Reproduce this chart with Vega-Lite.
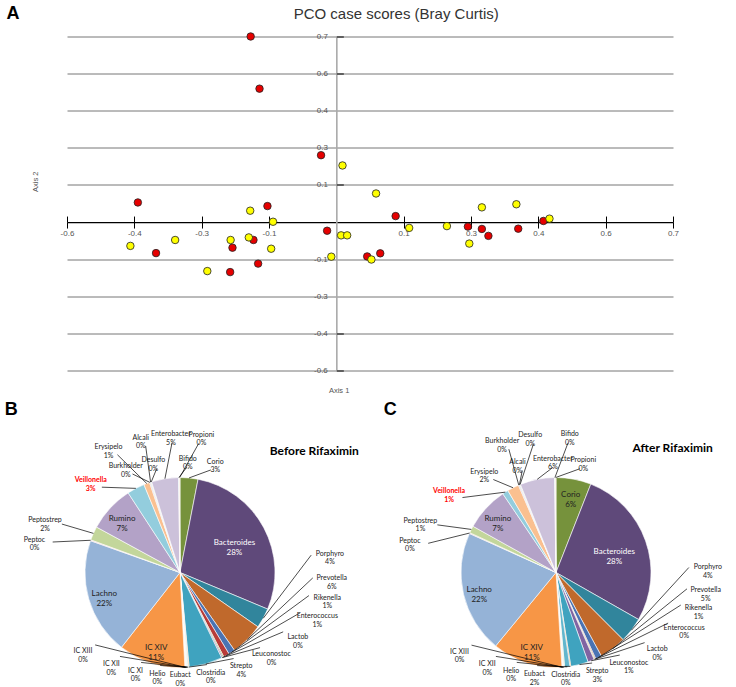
{
  "$schema": "https://vega.github.io/schema/vega-lite/v6.json",
  "padding": {"left": 4, "top": 3.5, "right": 2, "bottom": 2},
  "bounds": "flush",
  "spacing": 107,
  "resolve": {"scale": {"color": "independent"}},
  "config": {
    "view": {"stroke": null},
    "axis": {"domain": false, "ticks": false, "labels": false, "grid": false}
  },
  "datasets": {
    "scores": [
      {"a1": -0.206, "a2": 0.700, "g": "Before"},
      {"a1": -0.187, "a2": 0.497, "g": "Before"},
      {"a1": -0.055, "a2": 0.238, "g": "Before"},
      {"a1": -0.448, "a2": 0.054, "g": "Before"},
      {"a1": -0.170, "a2": 0.040, "g": "Before"},
      {"a1": -0.409, "a2": -0.143, "g": "Before"},
      {"a1": -0.245, "a2": -0.122, "g": "Before"},
      {"a1": -0.200, "a2": -0.092, "g": "Before"},
      {"a1": -0.190, "a2": -0.184, "g": "Before"},
      {"a1": -0.250, "a2": -0.217, "g": "Before"},
      {"a1": 0.105, "a2": 0.001, "g": "Before"},
      {"a1": 0.260, "a2": -0.040, "g": "Before"},
      {"a1": 0.290, "a2": -0.049, "g": "Before"},
      {"a1": 0.304, "a2": -0.076, "g": "Before"},
      {"a1": 0.368, "a2": -0.048, "g": "Before"},
      {"a1": 0.422, "a2": -0.018, "g": "Before"},
      {"a1": -0.042, "a2": -0.056, "g": "Before"},
      {"a1": 0.044, "a2": -0.156, "g": "Before"},
      {"a1": 0.072, "a2": -0.144, "g": "Before"},
      {"a1": -0.009, "a2": 0.198, "g": "After"},
      {"a1": -0.207, "a2": 0.022, "g": "After"},
      {"a1": -0.158, "a2": -0.021, "g": "After"},
      {"a1": -0.464, "a2": -0.115, "g": "After"},
      {"a1": -0.368, "a2": -0.092, "g": "After"},
      {"a1": -0.249, "a2": -0.092, "g": "After"},
      {"a1": -0.210, "a2": -0.082, "g": "After"},
      {"a1": -0.162, "a2": -0.126, "g": "After"},
      {"a1": -0.299, "a2": -0.213, "g": "After"},
      {"a1": 0.063, "a2": 0.089, "g": "After"},
      {"a1": 0.134, "a2": -0.045, "g": "After"},
      {"a1": 0.215, "a2": -0.038, "g": "After"},
      {"a1": 0.290, "a2": 0.035, "g": "After"},
      {"a1": 0.263, "a2": -0.106, "g": "After"},
      {"a1": 0.364, "a2": 0.047, "g": "After"},
      {"a1": 0.435, "a2": -0.009, "g": "After"},
      {"a1": -0.012, "a2": -0.074, "g": "After"},
      {"a1": 0.001, "a2": -0.074, "g": "After"},
      {"a1": -0.033, "a2": -0.157, "g": "After"},
      {"a1": 0.053, "a2": -0.168, "g": "After"}
    ],
    "before": [
      {"order": 1, "taxon": "Corio", "share": 3.05, "pct": "3%"},
      {"order": 2, "taxon": "Bacteroides", "share": 28.3, "pct": "28%"},
      {"order": 3, "taxon": "Porphyro", "share": 3.4, "pct": "4%"},
      {"order": 4, "taxon": "Prevotella", "share": 5.6, "pct": "6%"},
      {"order": 5, "taxon": "Rikenella", "share": 1.1, "pct": "1%"},
      {"order": 6, "taxon": "Enterococcus", "share": 1.0, "pct": "1%"},
      {"order": 7, "taxon": "Lactob", "share": 0.2, "pct": "0%"},
      {"order": 8, "taxon": "Leuconostoc", "share": 0.2, "pct": "0%"},
      {"order": 9, "taxon": "Strepto", "share": 5.7, "pct": "4%"},
      {"order": 10, "taxon": "Clostridia", "share": 0.12, "pct": "0%"},
      {"order": 11, "taxon": "Eubact", "share": 0.12, "pct": "0%"},
      {"order": 12, "taxon": "Helio", "share": 0.12, "pct": "0%"},
      {"order": 13, "taxon": "IC XI", "share": 0.12, "pct": "0%"},
      {"order": 14, "taxon": "IC XII", "share": 0.12, "pct": "0%"},
      {"order": 15, "taxon": "IC XIII", "share": 0.12, "pct": "0%"},
      {"order": 16, "taxon": "IC XIV", "share": 11.4, "pct": "11%"},
      {"order": 17, "taxon": "Lachno", "share": 19.9, "pct": "22%"},
      {"order": 18, "taxon": "Peptoc", "share": 0.15, "pct": "0%"},
      {"order": 19, "taxon": "Peptostrep", "share": 2.35, "pct": "2%"},
      {"order": 20, "taxon": "Rumino", "share": 7.9, "pct": "7%"},
      {"order": 21, "taxon": "Veillonella", "share": 3.0, "pct": "3%"},
      {"order": 22, "taxon": "Erysipelo", "share": 1.0, "pct": "1%"},
      {"order": 23, "taxon": "Burkholder", "share": 0.12, "pct": "0%"},
      {"order": 24, "taxon": "Alcali", "share": 0.12, "pct": "0%"},
      {"order": 25, "taxon": "Desulfo", "share": 0.12, "pct": "0%"},
      {"order": 26, "taxon": "Enterobacter", "share": 4.6, "pct": "5%"},
      {"order": 27, "taxon": "Bifido", "share": 0.12, "pct": "0%"},
      {"order": 28, "taxon": "Propioni", "share": 0.12, "pct": "0%"}
    ],
    "after": [
      {"order": 1, "taxon": "Corio", "share": 6.0, "pct": "6%"},
      {"order": 2, "taxon": "Bacteroides", "share": 27.4, "pct": "28%"},
      {"order": 3, "taxon": "Porphyro", "share": 4.3, "pct": "4%"},
      {"order": 4, "taxon": "Prevotella", "share": 4.6, "pct": "5%"},
      {"order": 5, "taxon": "Rikenella", "share": 1.05, "pct": "1%"},
      {"order": 6, "taxon": "Enterococcus", "share": 0.15, "pct": "0%"},
      {"order": 7, "taxon": "Lactob", "share": 0.15, "pct": "0%"},
      {"order": 8, "taxon": "Leuconostoc", "share": 1.1, "pct": "1%"},
      {"order": 9, "taxon": "Strepto", "share": 3.0, "pct": "3%"},
      {"order": 10, "taxon": "Clostridia", "share": 0.15, "pct": "0%"},
      {"order": 11, "taxon": "Eubact", "share": 0.9, "pct": "2%"},
      {"order": 12, "taxon": "Helio", "share": 0.15, "pct": "0%"},
      {"order": 14, "taxon": "IC XII", "share": 0.15, "pct": "0%"},
      {"order": 15, "taxon": "IC XIII", "share": 0.15, "pct": "0%"},
      {"order": 16, "taxon": "IC XIV", "share": 12.0, "pct": "11%"},
      {"order": 17, "taxon": "Lachno", "share": 20.9, "pct": "22%"},
      {"order": 18, "taxon": "Peptoc", "share": 0.15, "pct": "0%"},
      {"order": 19, "taxon": "Peptostrep", "share": 1.2, "pct": "1%"},
      {"order": 20, "taxon": "Rumino", "share": 7.5, "pct": "7%"},
      {"order": 21, "taxon": "Veillonella", "share": 1.0, "pct": "1%"},
      {"order": 22, "taxon": "Erysipelo", "share": 2.0, "pct": "2%"},
      {"order": 23, "taxon": "Burkholder", "share": 0.12, "pct": "0%"},
      {"order": 24, "taxon": "Alcali", "share": 0.12, "pct": "0%"},
      {"order": 25, "taxon": "Desulfo", "share": 0.12, "pct": "0%"},
      {"order": 26, "taxon": "Enterobacter", "share": 5.9, "pct": "6%"},
      {"order": 27, "taxon": "Bifido", "share": 0.12, "pct": "0%"},
      {"order": 28, "taxon": "Propioni", "share": 0.12, "pct": "0%"}
    ]
  },
  "vconcat": [
    {
      "width": 606,
      "height": 334,
      "data": {"name": "scores"},
      "layer": [
        {
          "mark": {"type": "point", "shape": "circle", "filled": true, "size": 56, "stroke": "#222222", "strokeWidth": 0.8, "opacity": 1},
          "encoding": {
            "x": {
              "field": "a1", "type": "quantitative",
              "scale": {"domain": [-0.6, 0.7], "nice": false, "zero": false},
              "axis": {
                "orient": "bottom", "offset": -148.44,
                "values": [-0.6, -0.45556, -0.31111, -0.16667, 0.12222, 0.26667, 0.41111, 0.55556, 0.7],
                "labelExpr": "datum.value < -0.5 ? '-0.6' : datum.value < -0.4 ? '-0.4' : datum.value < -0.2 ? '-0.3' : datum.value < 0 ? '-0.1' : datum.value < 0.2 ? '0.1' : datum.value < 0.3 ? '0.3' : datum.value < 0.5 ? '0.4' : datum.value < 0.6 ? '0.6' : '0.7'",
                "domain": true, "domainColor": "#000000", "domainWidth": 1.3,
                "ticks": true, "tickColor": "#000000", "tickSize": 6, "tickWidth": 1,
                "labels": true, "labelFont": "Liberation Sans", "labelFontSize": 8, "labelColor": "#555555", "labelPadding": 1.5,
                "labelFlush": false, "labelOverlap": false, "labelBound": false,
                "grid": false,
                "title": "Axis 1", "titleX": 271.6, "titleY": 168.7, "titleAlign": "center", "titleBaseline": "middle", "titleAngle": 0,
                "titleFont": "Liberation Sans", "titleFontSize": 7.5, "titleFontWeight": "normal", "titleColor": "#555555"
              }
            },
            "y": {
              "field": "a2", "type": "quantitative",
              "scale": {"domain": [-0.6, 0.7], "nice": false, "zero": false},
              "axis": {
                "orient": "left", "offset": -269.33,
                "values": [0.7, 0.55556, 0.41111, 0.26667, 0.12222, -0.16667, -0.31111, -0.45556, -0.6],
                "labelExpr": "datum.value < -0.5 ? '-0.6' : datum.value < -0.4 ? '-0.4' : datum.value < -0.2 ? '-0.3' : datum.value < 0 ? '-0.1' : datum.value < 0.2 ? '0.1' : datum.value < 0.3 ? '0.3' : datum.value < 0.5 ? '0.4' : datum.value < 0.6 ? '0.6' : '0.7'",
                "domain": true, "domainColor": "#aaaaaa", "domainWidth": 1.6,
                "ticks": false, "tickSize": 0,
                "labels": true, "labelFont": "Liberation Sans", "labelFontSize": 8, "labelColor": "#555555", "labelPadding": 9,
                "labelFlush": false, "labelOverlap": false, "labelBound": false,
                "grid": true, "gridColor": "#777777", "gridWidth": 1,
                "title": "Axis 2", "titleX": -301, "titleY": 144.8, "titleAlign": "center", "titleBaseline": "middle", "titleAngle": -90,
                "titleFont": "Liberation Sans", "titleFontSize": 7.5, "titleFontWeight": "normal", "titleColor": "#555555"
              }
            },
            "fill": {
              "field": "g", "type": "nominal",
              "scale": {"domain": ["Before", "After"], "range": ["#e60000", "#ffff00"]},
              "legend": null
            }
          }
        },
        {
          "mark": {"type": "point", "opacity": 0},
          "encoding": {
            "x": {
              "field": "a1", "type": "quantitative",
              "axis": {
                "orient": "top", "offset": -185.56,
                "values": [-0.6, -0.45556, -0.31111, -0.16667, 0.12222, 0.26667, 0.41111, 0.55556, 0.7],
                "domain": false, "ticks": true, "tickColor": "#000000", "tickSize": 6, "tickWidth": 1,
                "labels": false, "grid": false,
                "title": "PCO case scores (Bray Curtis)", "titleX": 328.7, "titleY": -208.8, "titleAlign": "center", "titleBaseline": "middle", "titleAngle": 0,
                "titleFont": "Liberation Sans", "titleFontSize": 15, "titleFontWeight": "normal", "titleColor": "#333333"
              }
            },
            "y": {
              "field": "a2", "type": "quantitative",
              "axis": {
                "orient": "right", "offset": -336.67,
                "values": [0.7, 0.55556, 0.12222, -0.45556, -0.6],
                "domain": false, "ticks": true, "tickColor": "#222222", "tickSize": 7, "tickWidth": 1.2,
                "labels": false, "grid": false,
                "title": "A", "titleX": -330.3, "titleY": -23.2, "titleAlign": "left", "titleBaseline": "middle", "titleAngle": 0,
                "titleFont": "Liberation Sans", "titleFontSize": 18, "titleFontWeight": "bold", "titleColor": "#000000"
              }
            }
          }
        }
      ],
      "resolve": {"axis": {"x": "independent", "y": "independent"}}
    },
    {
      "bounds": "flush",
      "spacing": 150,
      "hconcat": [
        {
          "width": 226,
          "height": 190,
          "data": {"name": "before"},
          "transform": [
            {"stack": "share", "groupby": [], "sort": [{"field": "order", "order": "ascending"}], "as": ["s0", "s1"]},
            {"joinaggregate": [{"op": "sum", "field": "share", "as": "tot"}]},
            {"calculate": "datum.s0 / datum.tot", "as": "f0"},
            {"calculate": "datum.s1 / datum.tot", "as": "f1"},
            {"calculate": "PI * (datum.s0 + datum.s1) / datum.tot", "as": "mid"},
            {"calculate": "datum.share >= 6 ? 'in' : 'out'", "as": "side"},
            {"calculate": "(datum.mid - 1.2 + 2 * PI) % (2 * PI)", "as": "rm"},
            {"window": [{"op": "row_number", "as": "k"}], "sort": [{"field": "rm", "order": "ascending"}], "groupby": ["side"]},
            {"calculate": "length(datum.taxon) * 3.3 + 4", "as": "wl"},
            {"window": [{"op": "lag", "field": "wl", "as": "wp"}], "sort": [{"field": "rm", "order": "ascending"}], "groupby": ["side"]},
            {"calculate": "datum.k == 1 ? 0 : min((datum.wl + datum.wp) / 2 / (152 * abs(cos(datum.mid)) + 0.01) * (cos(datum.mid) > 0.87 ? 0.5 : 1), 18 / (110 * abs(sin(datum.mid)) + 0.01))", "as": "g1"},
            {"window": [{"op": "sum", "field": "g1", "as": "c1"}], "sort": [{"field": "rm", "order": "ascending"}], "groupby": ["side"], "frame": [null, 0]},
            {"calculate": "datum.rm - datum.c1", "as": "v1"},
            {"window": [{"op": "max", "field": "v1", "as": "mx1"}], "sort": [{"field": "rm", "order": "ascending"}], "groupby": ["side"], "frame": [null, 0]},
            {"window": [{"op": "min", "field": "v1", "as": "mn1"}], "sort": [{"field": "rm", "order": "ascending"}], "groupby": ["side"], "frame": [0, null]},
            {"calculate": "(datum.mx1 + datum.mn1) / 2 + datum.c1 + 1.2", "as": "t1"},
            {"calculate": "datum.k == 1 ? 0 : min((datum.wl + datum.wp) / 2 / (152 * abs(cos(datum.t1)) + 0.01) * (cos(datum.t1) > 0.87 ? 0.5 : 1), 18 / (110 * abs(sin(datum.t1)) + 0.01))", "as": "g2"},
            {"window": [{"op": "sum", "field": "g2", "as": "c2"}], "sort": [{"field": "rm", "order": "ascending"}], "groupby": ["side"], "frame": [null, 0]},
            {"calculate": "datum.rm - datum.c2", "as": "v2"},
            {"window": [{"op": "max", "field": "v2", "as": "mx2"}], "sort": [{"field": "rm", "order": "ascending"}], "groupby": ["side"], "frame": [null, 0]},
            {"window": [{"op": "min", "field": "v2", "as": "mn2"}], "sort": [{"field": "rm", "order": "ascending"}], "groupby": ["side"], "frame": [0, null]},
            {"calculate": "(datum.mx2 + datum.mn2) / 2 + datum.c2 + 1.2", "as": "la"},
            {"calculate": "datum.side == 'in' ? sin(datum.mid) * (datum.share > 25 ? 0.65 : 0.83) : sin(datum.la) * 1.6", "as": "lx"},
            {"calculate": "datum.side == 'in' ? cos(datum.mid) * (datum.share > 25 ? 0.65 : 0.83) : cos(datum.la) * (cos(datum.la) > 0 ? 1.2 : 1.08) + (cos(datum.la) > 0.78 ? (datum.k % 2) * 0.26 : 0)", "as": "ly"},
            {"calculate": "sin(datum.mid)", "as": "ex"},
            {"calculate": "cos(datum.mid)", "as": "ey"},
            {"calculate": "datum.lx - 0.2 * sin(datum.la)", "as": "tx"},
            {"calculate": "datum.ly - 0.09 * cos(datum.la)", "as": "ty"},
            {"calculate": "[datum.taxon, datum.pct]", "as": "lab"}
          ],
          "layer": [
            {
              "mark": {"type": "arc", "outerRadius": 95, "stroke": "#ffffff", "strokeWidth": 0.6},
              "encoding": {
                "theta": {"field": "f0", "type": "quantitative", "stack": null, "scale": {"domain": [0, 1]}},
                "theta2": {"field": "f1"},
                "color": {
                  "field": "taxon", "type": "nominal", "legend": null,
                  "scale": {
                    "domain": ["Corio","Bacteroides","Porphyro","Prevotella","Rikenella","Enterococcus","Lactob","Leuconostoc","Strepto","Clostridia","Eubact","Helio","IC XI","IC XII","IC XIII","IC XIV","Lachno","Peptoc","Peptostrep","Rumino","Veillonella","Erysipelo","Burkholder","Alcali","Desulfo","Enterobacter","Bifido","Propioni"],
                    "range": ["#76923c","#5f497a","#31859c","#c0692c","#4a73b3","#b83b38","#9bbb59","#8064a2","#3fa3bf","#e46c0a","#62b6cd","#c3d69b","#d9d9d9","#e0e0e0","#eeece1","#f79646","#95b3d7","#e6b9b8","#c3d69b","#b3a2c7","#93cddd","#fac090","#d99694","#8eb4e3","#d7e4bd","#ccc1da","#b7dee8","#fcd5b5"]
                  }
                }
              }
            },
            {
              "transform": [{"filter": "datum.side == 'out'"}],
              "mark": {"type": "rule", "color": "#000000", "strokeWidth": 0.7},
              "encoding": {
                "x": {"field": "ex", "type": "quantitative", "scale": {"domain": [-1.18947, 1.18947], "nice": false, "zero": false},
                  "axis": {"orient": "top", "title": "Before Rifaximin", "titleX": 291.3, "titleY": -26.7, "titleAlign": "right", "titleBaseline": "middle", "titleAngle": 0, "titleFont": "Lato", "titleFontSize": 12, "titleFontWeight": "bold", "titleColor": "#000000"}},
                "y": {"field": "ey", "type": "quantitative", "scale": {"domain": [-1, 1], "nice": false, "zero": false},
                  "axis": {"orient": "left", "title": "B", "titleX": -62.7, "titleY": -68.4, "titleAlign": "left", "titleBaseline": "middle", "titleAngle": 0, "titleFont": "Liberation Sans", "titleFontSize": 18, "titleFontWeight": "bold", "titleColor": "#000000"}},
                "x2": {"field": "tx"},
                "y2": {"field": "ty"}
              }
            },
            {
              "transform": [{"filter": "datum.side == 'in'"}],
              "mark": {"type": "text", "font": "Lato", "fontSize": 8, "lineHeight": 10},
              "encoding": {
                "x": {"field": "lx", "type": "quantitative",
                  "axis": {"orient": "top", "title": "Before Rifaximin", "titleX": 291.3, "titleY": -26.7, "titleAlign": "right", "titleBaseline": "middle", "titleAngle": 0, "titleFont": "Lato", "titleFontSize": 12, "titleFontWeight": "bold", "titleColor": "#000000"}},
                "y": {"field": "ly", "type": "quantitative",
                  "axis": {"orient": "left", "title": "B", "titleX": -62.7, "titleY": -68.4, "titleAlign": "left", "titleBaseline": "middle", "titleAngle": 0, "titleFont": "Liberation Sans", "titleFontSize": 18, "titleFontWeight": "bold", "titleColor": "#000000"}},
                "text": {"field": "lab"},
                "color": {"condition": {"test": "datum.taxon == 'Bacteroides'", "value": "#ffffff"}, "value": "#222222"}
              }
            },
            {
              "transform": [{"filter": "datum.side == 'out' && datum.taxon != 'Veillonella'"}],
              "mark": {"type": "text", "font": "Lato", "fontSize": 7, "lineHeight": 8.5, "color": "#222222"},
              "encoding": {
                "x": {"field": "lx", "type": "quantitative",
                  "axis": {"orient": "top", "title": "Before Rifaximin", "titleX": 291.3, "titleY": -26.7, "titleAlign": "right", "titleBaseline": "middle", "titleAngle": 0, "titleFont": "Lato", "titleFontSize": 12, "titleFontWeight": "bold", "titleColor": "#000000"}},
                "y": {"field": "ly", "type": "quantitative",
                  "axis": {"orient": "left", "title": "B", "titleX": -62.7, "titleY": -68.4, "titleAlign": "left", "titleBaseline": "middle", "titleAngle": 0, "titleFont": "Liberation Sans", "titleFontSize": 18, "titleFontWeight": "bold", "titleColor": "#000000"}},
                "text": {"field": "lab"}
              }
            },
            {
              "transform": [{"filter": "datum.side == 'out' && datum.taxon == 'Veillonella'"}],
              "mark": {"type": "text", "font": "Lato", "fontSize": 7, "lineHeight": 8.5, "color": "#ff0000", "fontWeight": "bold"},
              "encoding": {
                "x": {"field": "lx", "type": "quantitative",
                  "axis": {"orient": "top", "title": "Before Rifaximin", "titleX": 291.3, "titleY": -26.7, "titleAlign": "right", "titleBaseline": "middle", "titleAngle": 0, "titleFont": "Lato", "titleFontSize": 12, "titleFontWeight": "bold", "titleColor": "#000000"}},
                "y": {"field": "ly", "type": "quantitative",
                  "axis": {"orient": "left", "title": "B", "titleX": -62.7, "titleY": -68.4, "titleAlign": "left", "titleBaseline": "middle", "titleAngle": 0, "titleFont": "Liberation Sans", "titleFontSize": 18, "titleFontWeight": "bold", "titleColor": "#000000"}},
                "text": {"field": "lab"}
              }
            }
          ]
        },
        {
          "width": 226,
          "height": 190,
          "data": {"name": "after"},
          "transform": [
            {"stack": "share", "groupby": [], "sort": [{"field": "order", "order": "ascending"}], "as": ["s0", "s1"]},
            {"joinaggregate": [{"op": "sum", "field": "share", "as": "tot"}]},
            {"calculate": "datum.s0 / datum.tot", "as": "f0"},
            {"calculate": "datum.s1 / datum.tot", "as": "f1"},
            {"calculate": "PI * (datum.s0 + datum.s1) / datum.tot", "as": "mid"},
            {"calculate": "datum.share >= 6 ? 'in' : 'out'", "as": "side"},
            {"calculate": "(datum.mid - 1.2 + 2 * PI) % (2 * PI)", "as": "rm"},
            {"window": [{"op": "row_number", "as": "k"}], "sort": [{"field": "rm", "order": "ascending"}], "groupby": ["side"]},
            {"calculate": "length(datum.taxon) * 3.3 + 4", "as": "wl"},
            {"window": [{"op": "lag", "field": "wl", "as": "wp"}], "sort": [{"field": "rm", "order": "ascending"}], "groupby": ["side"]},
            {"calculate": "datum.k == 1 ? 0 : min((datum.wl + datum.wp) / 2 / (152 * abs(cos(datum.mid)) + 0.01) * (cos(datum.mid) > 0.87 ? 0.5 : 1), 18 / (110 * abs(sin(datum.mid)) + 0.01))", "as": "g1"},
            {"window": [{"op": "sum", "field": "g1", "as": "c1"}], "sort": [{"field": "rm", "order": "ascending"}], "groupby": ["side"], "frame": [null, 0]},
            {"calculate": "datum.rm - datum.c1", "as": "v1"},
            {"window": [{"op": "max", "field": "v1", "as": "mx1"}], "sort": [{"field": "rm", "order": "ascending"}], "groupby": ["side"], "frame": [null, 0]},
            {"window": [{"op": "min", "field": "v1", "as": "mn1"}], "sort": [{"field": "rm", "order": "ascending"}], "groupby": ["side"], "frame": [0, null]},
            {"calculate": "(datum.mx1 + datum.mn1) / 2 + datum.c1 + 1.2", "as": "t1"},
            {"calculate": "datum.k == 1 ? 0 : min((datum.wl + datum.wp) / 2 / (152 * abs(cos(datum.t1)) + 0.01) * (cos(datum.t1) > 0.87 ? 0.5 : 1), 18 / (110 * abs(sin(datum.t1)) + 0.01))", "as": "g2"},
            {"window": [{"op": "sum", "field": "g2", "as": "c2"}], "sort": [{"field": "rm", "order": "ascending"}], "groupby": ["side"], "frame": [null, 0]},
            {"calculate": "datum.rm - datum.c2", "as": "v2"},
            {"window": [{"op": "max", "field": "v2", "as": "mx2"}], "sort": [{"field": "rm", "order": "ascending"}], "groupby": ["side"], "frame": [null, 0]},
            {"window": [{"op": "min", "field": "v2", "as": "mn2"}], "sort": [{"field": "rm", "order": "ascending"}], "groupby": ["side"], "frame": [0, null]},
            {"calculate": "(datum.mx2 + datum.mn2) / 2 + datum.c2 + 1.2", "as": "la"},
            {"calculate": "datum.side == 'in' ? sin(datum.mid) * (datum.share > 25 ? 0.65 : 0.83) : sin(datum.la) * 1.6", "as": "lx"},
            {"calculate": "datum.side == 'in' ? cos(datum.mid) * (datum.share > 25 ? 0.65 : 0.83) : cos(datum.la) * (cos(datum.la) > 0 ? 1.2 : 1.08) + (cos(datum.la) > 0.78 ? (datum.k % 2) * 0.26 : 0)", "as": "ly"},
            {"calculate": "sin(datum.mid)", "as": "ex"},
            {"calculate": "cos(datum.mid)", "as": "ey"},
            {"calculate": "datum.lx - 0.2 * sin(datum.la)", "as": "tx"},
            {"calculate": "datum.ly - 0.09 * cos(datum.la)", "as": "ty"},
            {"calculate": "[datum.taxon, datum.pct]", "as": "lab"}
          ],
          "layer": [
            {
              "mark": {"type": "arc", "outerRadius": 95, "stroke": "#ffffff", "strokeWidth": 0.6},
              "encoding": {
                "theta": {"field": "f0", "type": "quantitative", "stack": null, "scale": {"domain": [0, 1]}},
                "theta2": {"field": "f1"},
                "color": {
                  "field": "taxon", "type": "nominal", "legend": null,
                  "scale": {
                    "domain": ["Corio","Bacteroides","Porphyro","Prevotella","Rikenella","Enterococcus","Lactob","Leuconostoc","Strepto","Clostridia","Eubact","Helio","IC XI","IC XII","IC XIII","IC XIV","Lachno","Peptoc","Peptostrep","Rumino","Veillonella","Erysipelo","Burkholder","Alcali","Desulfo","Enterobacter","Bifido","Propioni"],
                    "range": ["#76923c","#5f497a","#31859c","#c0692c","#4a73b3","#b83b38","#9bbb59","#8064a2","#3fa3bf","#e46c0a","#62b6cd","#c3d69b","#d9d9d9","#e0e0e0","#eeece1","#f79646","#95b3d7","#e6b9b8","#c3d69b","#b3a2c7","#93cddd","#fac090","#d99694","#8eb4e3","#d7e4bd","#ccc1da","#b7dee8","#fcd5b5"]
                  }
                }
              }
            },
            {
              "transform": [{"filter": "datum.side == 'out'"}],
              "mark": {"type": "rule", "color": "#000000", "strokeWidth": 0.7},
              "encoding": {
                "x": {"field": "ex", "type": "quantitative", "scale": {"domain": [-1.18947, 1.18947], "nice": false, "zero": false},
                  "axis": {"orient": "top", "title": "After Rifaximin", "titleX": 269.3, "titleY": -29.7, "titleAlign": "right", "titleBaseline": "middle", "titleAngle": 0, "titleFont": "Lato", "titleFontSize": 12, "titleFontWeight": "bold", "titleColor": "#000000"}},
                "y": {"field": "ey", "type": "quantitative", "scale": {"domain": [-1, 1], "nice": false, "zero": false},
                  "axis": {"orient": "left", "title": "C", "titleX": -59.7, "titleY": -68.2, "titleAlign": "left", "titleBaseline": "middle", "titleAngle": 0, "titleFont": "Liberation Sans", "titleFontSize": 18, "titleFontWeight": "bold", "titleColor": "#000000"}},
                "x2": {"field": "tx"},
                "y2": {"field": "ty"}
              }
            },
            {
              "transform": [{"filter": "datum.side == 'in'"}],
              "mark": {"type": "text", "font": "Lato", "fontSize": 8, "lineHeight": 10},
              "encoding": {
                "x": {"field": "lx", "type": "quantitative",
                  "axis": {"orient": "top", "title": "After Rifaximin", "titleX": 269.3, "titleY": -29.7, "titleAlign": "right", "titleBaseline": "middle", "titleAngle": 0, "titleFont": "Lato", "titleFontSize": 12, "titleFontWeight": "bold", "titleColor": "#000000"}},
                "y": {"field": "ly", "type": "quantitative",
                  "axis": {"orient": "left", "title": "C", "titleX": -59.7, "titleY": -68.2, "titleAlign": "left", "titleBaseline": "middle", "titleAngle": 0, "titleFont": "Liberation Sans", "titleFontSize": 18, "titleFontWeight": "bold", "titleColor": "#000000"}},
                "text": {"field": "lab"},
                "color": {"condition": {"test": "datum.taxon == 'Bacteroides'", "value": "#ffffff"}, "value": "#222222"}
              }
            },
            {
              "transform": [{"filter": "datum.side == 'out' && datum.taxon != 'Veillonella'"}],
              "mark": {"type": "text", "font": "Lato", "fontSize": 7, "lineHeight": 8.5, "color": "#222222"},
              "encoding": {
                "x": {"field": "lx", "type": "quantitative",
                  "axis": {"orient": "top", "title": "After Rifaximin", "titleX": 269.3, "titleY": -29.7, "titleAlign": "right", "titleBaseline": "middle", "titleAngle": 0, "titleFont": "Lato", "titleFontSize": 12, "titleFontWeight": "bold", "titleColor": "#000000"}},
                "y": {"field": "ly", "type": "quantitative",
                  "axis": {"orient": "left", "title": "C", "titleX": -59.7, "titleY": -68.2, "titleAlign": "left", "titleBaseline": "middle", "titleAngle": 0, "titleFont": "Liberation Sans", "titleFontSize": 18, "titleFontWeight": "bold", "titleColor": "#000000"}},
                "text": {"field": "lab"}
              }
            },
            {
              "transform": [{"filter": "datum.side == 'out' && datum.taxon == 'Veillonella'"}],
              "mark": {"type": "text", "font": "Lato", "fontSize": 7, "lineHeight": 8.5, "color": "#ff0000", "fontWeight": "bold"},
              "encoding": {
                "x": {"field": "lx", "type": "quantitative",
                  "axis": {"orient": "top", "title": "After Rifaximin", "titleX": 269.3, "titleY": -29.7, "titleAlign": "right", "titleBaseline": "middle", "titleAngle": 0, "titleFont": "Lato", "titleFontSize": 12, "titleFontWeight": "bold", "titleColor": "#000000"}},
                "y": {"field": "ly", "type": "quantitative",
                  "axis": {"orient": "left", "title": "C", "titleX": -59.7, "titleY": -68.2, "titleAlign": "left", "titleBaseline": "middle", "titleAngle": 0, "titleFont": "Liberation Sans", "titleFontSize": 18, "titleFontWeight": "bold", "titleColor": "#000000"}},
                "text": {"field": "lab"}
              }
            }
          ]
        }
      ]
    }
  ]
}
